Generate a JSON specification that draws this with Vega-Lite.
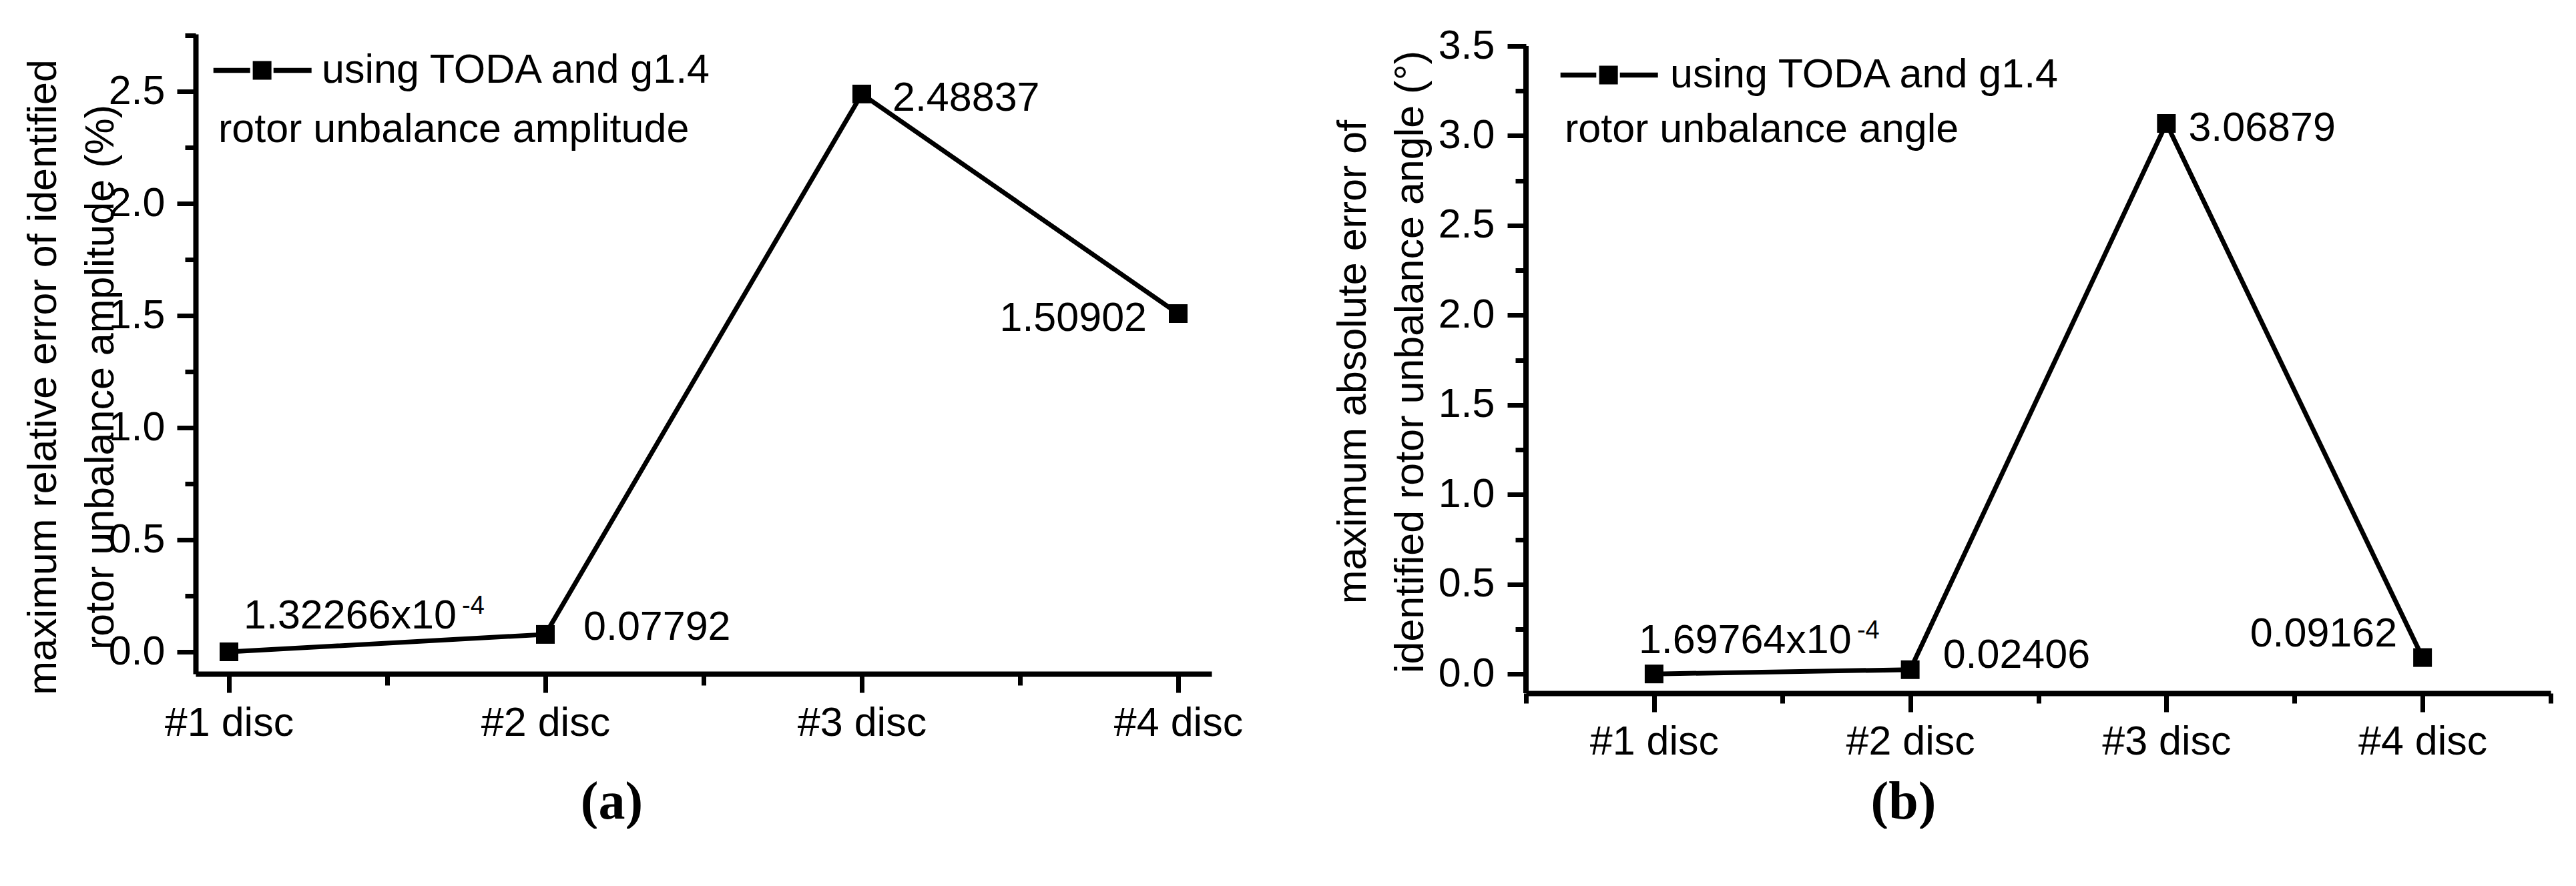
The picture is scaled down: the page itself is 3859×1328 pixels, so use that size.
{
  "$schema": "https://vega.github.io/schema/vega-lite/v6.json",
  "background": "white",
  "padding": {"left": 33, "top": 22, "right": 0, "bottom": 0},
  "spacing": 133,
  "resolve": {"scale": {"color": "independent"}, "legend": {"color": "independent"}},
  "config": {
    "view": {"stroke": null},
    "font": "Liberation Sans",
    "axis": {
      "domainColor": "black", "domainWidth": 8, "tickColor": "black", "tickWidth": 7,
      "labelColor": "black", "labelFont": "Liberation Sans", "labelFontSize": 61, "labelLimit": 0,
      "titleFont": "Liberation Sans", "titleFontSize": 61, "titleFontWeight": "normal", "titleColor": "black",
      "grid": false, "labelFlush": false, "labelOverlap": false
    },
    "legend": {
      "labelFont": "Liberation Sans", "labelFontSize": 61, "labelColor": "black", "labelLimit": 0,
      "titleFont": "Liberation Sans", "titleFontSize": 61, "titleFontWeight": "normal", "titleColor": "black", "titleLimit": 0,
      "padding": 0, "symbolStrokeWidth": 0, "symbolFillColor": "black"
    }
  },
  "datasets": {
    "a": [
      {"disc": 1, "value": 0.000132266, "label": "1.32266x10", "sup": "-4", "series": "using TODA and g1.4"},
      {"disc": 2, "value": 0.07792, "label": "0.07792", "sup": "", "series": "using TODA and g1.4"},
      {"disc": 3, "value": 2.48837, "label": "2.48837", "sup": "", "series": "using TODA and g1.4"},
      {"disc": 4, "value": 1.50902, "label": "1.50902", "sup": "", "series": "using TODA and g1.4"}
    ],
    "b": [
      {"disc": 1, "value": 0.000169764, "label": "1.69764x10", "sup": "-4", "series": "using TODA and g1.4"},
      {"disc": 2, "value": 0.02406, "label": "0.02406", "sup": "", "series": "using TODA and g1.4"},
      {"disc": 3, "value": 3.06879, "label": "3.06879", "sup": "", "series": "using TODA and g1.4"},
      {"disc": 4, "value": 0.09162, "label": "0.09162", "sup": "", "series": "using TODA and g1.4"}
    ]
  },
  "hconcat": [
    {
      "width": 1522, "height": 959,
      "data": {"name": "a"},
      "layer": [
        {
          "mark": {"type": "line", "color": "black", "strokeWidth": 7},
          "encoding": {
            "x": {"field": "disc", "type": "quantitative",
              "scale": {"domain": [0.8945, 4.1055], "nice": false, "zero": false},
              "axis": {"values": [1, 1.5, 2, 2.5, 3, 3.5, 4],
                "labelExpr": "datum.value % 1 === 0 ? '#' + datum.value + ' disc' : ''",
                "tickSize": {"condition": {"test": "datum.value % 1 === 0", "value": 28}, "value": 17},
                "labelPadding": 16,
                "title": "(a)", "titleFont": "Liberation Serif", "titleFontSize": 80, "titleFontWeight": "bold",
                "titleX": 623, "titleY": 216, "titleAngle": 0, "titleAlign": "center", "titleBaseline": "alphabetic"}},
            "y": {"field": "value", "type": "quantitative",
              "scale": {"domain": [-0.098, 2.756], "nice": false, "zero": false},
              "axis": {"values": [0, 0.25, 0.5, 0.75, 1, 1.25, 1.5, 1.75, 2, 2.25, 2.5, 2.75],
                "labelExpr": "datum.value % 0.5 === 0 ? format(datum.value, '.1f') : ''",
                "tickSize": {"condition": {"test": "datum.value % 0.5 === 0", "value": 28}, "value": 16},
                "labelPadding": 18,
                "title": ["maximum relative error of identified", "rotor unbalance amplitude (%)"],
                "titleX": -210, "titleY": 514, "titleAngle": -90, "titleAlign": "center",
                "titleBaseline": "alphabetic", "titleLineHeight": 86}}
          }
        },
        {
          "mark": {"type": "point", "shape": "square", "filled": true, "size": 784, "opacity": 1},
          "encoding": {
            "x": {"field": "disc", "type": "quantitative"},
            "y": {"field": "value", "type": "quantitative"},
            "color": {"field": "series", "type": "nominal", "scale": {"range": ["black"]},
              "legend": {"orient": "none", "legendX": 34, "legendY": 24,
                "title": "rotor unbalance amplitude", "titleOrient": "bottom", "titleAnchor": "start", "titlePadding": 29,
                "symbolType": "M-2.7,-0.27H1.23V0.27H-2.7Z M1.51,-1H3.51V1H1.51Z M3.73,-0.27H7.8V0.27H3.73Z",
                "symbolSize": 784, "labelOffset": 94}}
          }
        },
        {
          "transform": [{"filter": "datum.disc == 1"}],
          "mark": {"type": "text", "align": "left", "baseline": "alphabetic", "dx": 22, "dy": -35, "fontSize": 61, "color": "black"},
          "encoding": {"x": {"field": "disc", "type": "quantitative"}, "y": {"field": "value", "type": "quantitative"}, "text": {"field": "label"}}
        },
        {
          "transform": [{"filter": "datum.disc == 1"}],
          "mark": {"type": "text", "align": "left", "baseline": "alphabetic", "dx": 349, "dy": -57, "fontSize": 38, "color": "black"},
          "encoding": {"x": {"field": "disc", "type": "quantitative"}, "y": {"field": "value", "type": "quantitative"}, "text": {"field": "sup"}}
        },
        {
          "transform": [{"filter": "datum.disc == 2"}],
          "mark": {"type": "text", "align": "left", "baseline": "alphabetic", "dx": 57, "dy": 8, "fontSize": 61, "color": "black"},
          "encoding": {"x": {"field": "disc", "type": "quantitative"}, "y": {"field": "value", "type": "quantitative"}, "text": {"field": "label"}}
        },
        {
          "transform": [{"filter": "datum.disc == 3"}],
          "mark": {"type": "text", "align": "left", "baseline": "alphabetic", "dx": 46, "dy": 25, "fontSize": 61, "color": "black"},
          "encoding": {"x": {"field": "disc", "type": "quantitative"}, "y": {"field": "value", "type": "quantitative"}, "text": {"field": "label"}}
        },
        {
          "transform": [{"filter": "datum.disc == 4"}],
          "mark": {"type": "text", "align": "right", "baseline": "alphabetic", "dx": -47, "dy": 26, "fontSize": 61, "color": "black"},
          "encoding": {"x": {"field": "disc", "type": "quantitative"}, "y": {"field": "value", "type": "quantitative"}, "text": {"field": "label"}}
        }
      ]
    },
    {
      "width": 1535, "height": 988,
      "data": {"name": "b"},
      "layer": [
        {
          "mark": {"type": "line", "color": "black", "strokeWidth": 7},
          "encoding": {
            "x": {"field": "disc", "type": "quantitative",
              "scale": {"domain": [0.5, 4.5], "nice": false, "zero": false},
              "axis": {"values": [0.5, 1, 1.5, 2, 2.5, 3, 3.5, 4, 4.5],
                "labelExpr": "datum.value % 1 === 0 ? '#' + datum.value + ' disc' : ''",
                "tickSize": {"condition": {"test": "datum.value % 1 === 0", "value": 28}, "value": 15},
                "labelPadding": 15,
                "title": "(b)", "titleFont": "Liberation Serif", "titleFontSize": 80, "titleFontWeight": "bold",
                "titleX": 565, "titleY": 187, "titleAngle": 0, "titleAlign": "center", "titleBaseline": "alphabetic"}},
            "y": {"field": "value", "type": "quantitative",
              "scale": {"domain": [-0.107, 3.567], "nice": false, "zero": false},
              "axis": {"values": [0, 0.25, 0.5, 0.75, 1, 1.25, 1.5, 1.75, 2, 2.25, 2.5, 2.75, 3, 3.25, 3.5],
                "domain": false,
                "labelExpr": "datum.value % 0.5 === 0 ? format(datum.value, '.1f') : ''",
                "tickSize": {"condition": {"test": "datum.value % 0.5 === 0", "value": 28}, "value": 16},
                "labelPadding": 19,
                "title": ["maximum absolute error of", "identified rotor unbalance angle (°)"],
                "titleX": -241, "titleY": 491, "titleAngle": -90, "titleAlign": "center",
                "titleBaseline": "alphabetic", "titleLineHeight": 86}}
          }
        },
        {
          "mark": {"type": "rule", "color": "black", "strokeWidth": 8},
          "encoding": {
            "x": {"datum": 0.5, "type": "quantitative"},
            "y": {"datum": -0.107, "type": "quantitative"},
            "y2": {"datum": 3.5}
          }
        },
        {
          "mark": {"type": "point", "shape": "square", "filled": true, "size": 784, "opacity": 1},
          "encoding": {
            "x": {"field": "disc", "type": "quantitative"},
            "y": {"field": "value", "type": "quantitative"},
            "color": {"field": "series", "type": "nominal", "scale": {"range": ["black"]},
              "legend": {"orient": "none", "legendX": 58, "legendY": 31,
                "title": "rotor unbalance angle", "titleOrient": "bottom", "titleAnchor": "start", "titlePadding": 22,
                "symbolType": "M-2.63,-0.27H1.2V0.27H-2.63Z M1.51,-1H3.51V1H1.51Z M3.73,-0.27H7.8V0.27H3.73Z",
                "symbolSize": 784, "labelOffset": 97}}
          }
        },
        {
          "transform": [{"filter": "datum.disc == 1"}],
          "mark": {"type": "text", "align": "left", "baseline": "alphabetic", "dx": -23, "dy": -31, "fontSize": 61, "color": "black"},
          "encoding": {"x": {"field": "disc", "type": "quantitative"}, "y": {"field": "value", "type": "quantitative"}, "text": {"field": "label"}}
        },
        {
          "transform": [{"filter": "datum.disc == 1"}],
          "mark": {"type": "text", "align": "left", "baseline": "alphabetic", "dx": 304, "dy": -53, "fontSize": 38, "color": "black"},
          "encoding": {"x": {"field": "disc", "type": "quantitative"}, "y": {"field": "value", "type": "quantitative"}, "text": {"field": "sup"}}
        },
        {
          "transform": [{"filter": "datum.disc == 2"}],
          "mark": {"type": "text", "align": "left", "baseline": "alphabetic", "dx": 49, "dy": -3, "fontSize": 61, "color": "black"},
          "encoding": {"x": {"field": "disc", "type": "quantitative"}, "y": {"field": "value", "type": "quantitative"}, "text": {"field": "label"}}
        },
        {
          "transform": [{"filter": "datum.disc == 3"}],
          "mark": {"type": "text", "align": "left", "baseline": "alphabetic", "dx": 33, "dy": 26, "fontSize": 61, "color": "black"},
          "encoding": {"x": {"field": "disc", "type": "quantitative"}, "y": {"field": "value", "type": "quantitative"}, "text": {"field": "label"}}
        },
        {
          "transform": [{"filter": "datum.disc == 4"}],
          "mark": {"type": "text", "align": "right", "baseline": "alphabetic", "dx": -38, "dy": -17, "fontSize": 61, "color": "black"},
          "encoding": {"x": {"field": "disc", "type": "quantitative"}, "y": {"field": "value", "type": "quantitative"}, "text": {"field": "label"}}
        }
      ]
    }
  ]
}
